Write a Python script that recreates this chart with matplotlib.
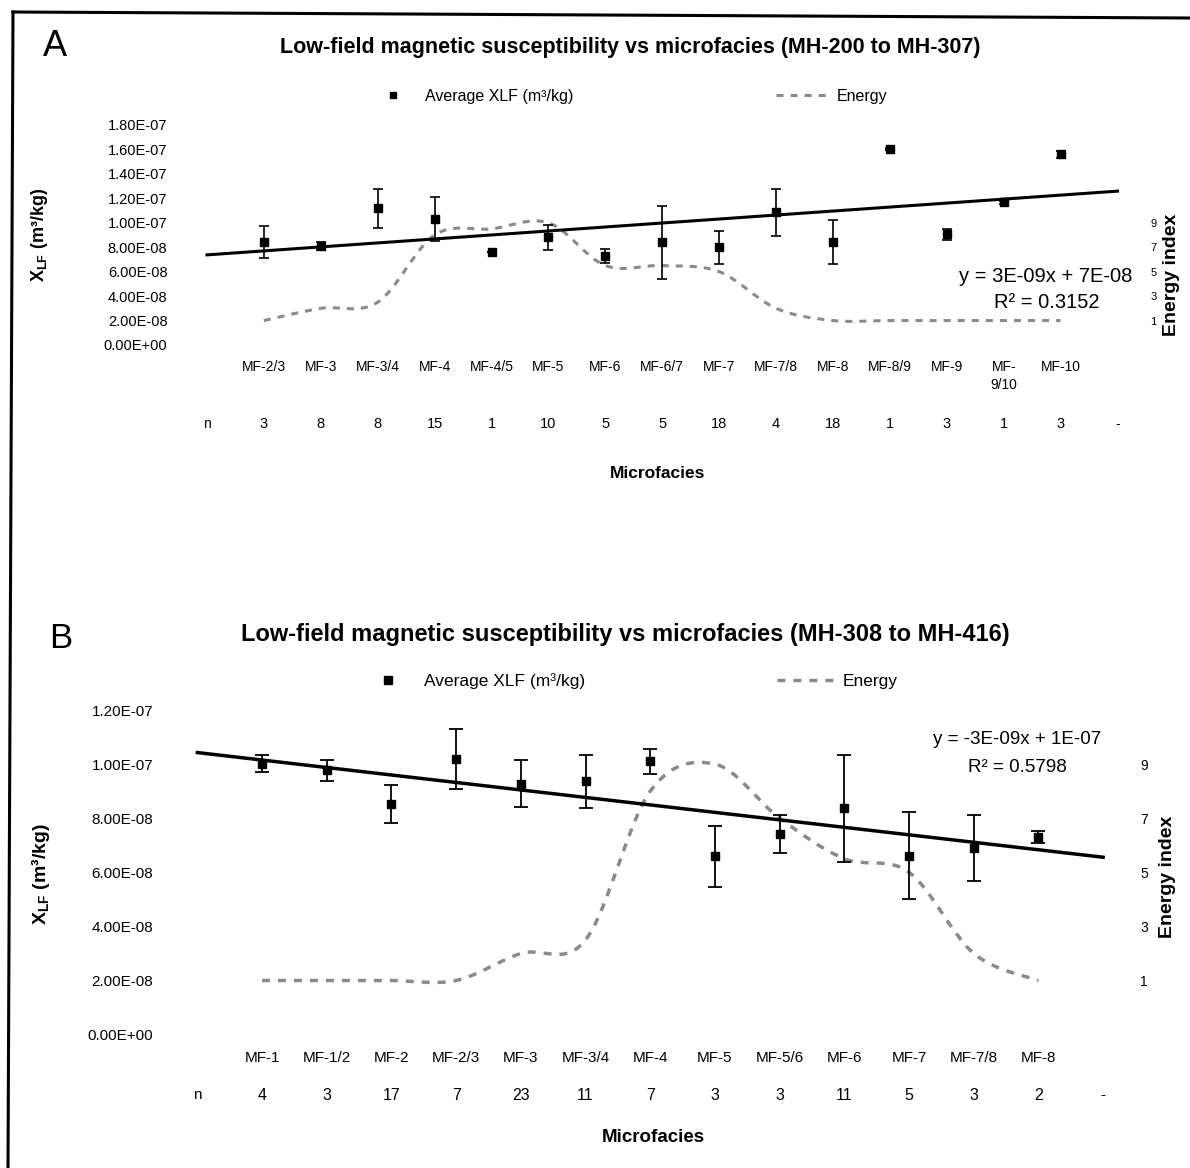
import numpy as np
import matplotlib
matplotlib.use('Agg')
import matplotlib.pyplot as plt
from matplotlib.path import Path
from matplotlib.patches import PathPatch
from matplotlib.lines import Line2D

plt.rcParams['font.family'] = ['Liberation Sans', 'DejaVu Sans']
plt.rcParams['mathtext.fontset'] = 'custom'
plt.rcParams['mathtext.rm'] = 'Liberation Sans'
plt.rcParams['mathtext.bf'] = 'Liberation Sans:bold'

# --- panel A data (MH-200 to MH-307) ---
a_cats = ['MF-2/3', 'MF-3', 'MF-3/4', 'MF-4', 'MF-4/5', 'MF-5', 'MF-6', 'MF-6/7',
          'MF-7', 'MF-7/8', 'MF-8', 'MF-8/9', 'MF-9', 'MF-\n9/10', 'MF-10']
a_n = [3, 8, 8, 15, 1, 10, 5, 5, 18, 4, 18, 1, 3, 1, 3]
a_xlf = np.array([8.4, 8.1, 11.2, 10.3, 7.6, 8.8, 7.3, 8.4, 8.0, 10.85, 8.4, 16.05, 9.05, 11.67, 15.6]) * 1e-8
a_err = np.array([1.3, 0.35, 1.6, 1.8, 0.0, 1.05, 0.55, 3.0, 1.35, 1.95, 1.8, 0.1, 0.45, 0.15, 0.3]) * 1e-8
a_energy = [1, 2, 2.5, 8, 8.5, 9, 5.5, 5.5, 5, 2, 1, 1, 1, 1, 1]
a_yticks = [0, 2e-8, 4e-8, 6e-8, 8e-8, 1e-7, 1.2e-7, 1.4e-7, 1.6e-7, 1.8e-7]

# --- panel B data (MH-308 to MH-416) ---
b_cats = ['MF-1', 'MF-1/2', 'MF-2', 'MF-2/3', 'MF-3', 'MF-3/4', 'MF-4', 'MF-5',
          'MF-5/6', 'MF-6', 'MF-7', 'MF-7/8', 'MF-8']
b_n = [4, 3, 17, 7, 23, 11, 7, 3, 3, 11, 5, 3, 2]
b_xlf = np.array([10.02, 9.77, 8.51, 10.18, 9.28, 9.37, 10.1, 6.59, 7.41, 8.36, 6.61, 6.9, 7.29]) * 1e-8
b_err = np.array([0.3, 0.4, 0.7, 1.1, 0.87, 0.98, 0.45, 1.14, 0.69, 1.98, 1.61, 1.21, 0.22]) * 1e-8
b_energy = [1, 1, 1, 1, 2, 2.5, 8, 9, 7, 5.5, 5, 2, 1]
b_yticks = [0, 2e-8, 4e-8, 6e-8, 8e-8, 1e-7, 1.2e-7]

energy_ticks = [1, 3, 5, 7, 9]

W, H = 1190, 1168
GRAY = '#8a8a8a'

fig = plt.figure(figsize=(W / 100, H / 100), dpi=100)


def fx(x):
    return x / W


def fy(y):
    return 1 - y / H


def smooth_path(x, y):
    # excel style smoothed line: cubic bezier through every point
    verts = [(x[0], y[0])]
    codes = [Path.MOVETO]
    n = len(x)
    for i in range(n - 1):
        xp, yp = (x[i - 1], y[i - 1]) if i > 0 else (x[i], y[i])
        xn, yn = (x[i + 2], y[i + 2]) if i + 2 < n else (x[i + 1], y[i + 1])
        verts.append((x[i] + (x[i + 1] - xp) / 6, y[i] + (y[i + 1] - yp) / 6))
        verts.append((x[i + 1] - (xn - x[i]) / 6, y[i + 1] - (yn - y[i]) / 6))
        verts.append((x[i + 1], y[i + 1]))
        codes += [Path.CURVE4] * 3
    return Path(verts, codes)


def panel(px, cats, n, xlf, err, energy, yticks, elim, s):
    # px = (left, right, top, bottom) of the plot area in pixels
    left, right, top, bottom = px
    ax = fig.add_axes([fx(left), fy(bottom), (right - left) / W, (bottom - top) / H])
    ax2 = ax.twinx()
    ax.set_zorder(ax2.get_zorder() + 1)
    ax.patch.set_visible(False)

    x = np.arange(1, len(cats) + 1)
    ax.set_xlim(-0.5, len(cats) + 1.5)
    ax.set_ylim(yticks[0], yticks[-1])
    ax2.set_ylim(*elim)

    ax.errorbar(x, xlf, yerr=err, fmt='s', color='black', ms=s['ms'],
                capsize=s['cap'], elinewidth=s['elw'], capthick=s['elw'], zorder=4)
    coef = np.polyfit(x, xlf, 1)
    xt = np.array([0, len(cats) + 1])
    ax.plot(xt, np.polyval(coef, xt), color='black', lw=s['tlw'], zorder=3)

    ax2.add_patch(PathPatch(smooth_path(x, energy), fill=False, ec=GRAY,
                            lw=s['elw2'], ls=(0, (2.3, 2.3))))

    for a in (ax, ax2):
        for sp in a.spines.values():
            sp.set_visible(False)
        a.tick_params(length=0)

    ax.set_yticks(yticks, ['%.2E' % v for v in yticks], fontsize=s['tfs'])
    ax.tick_params(axis='y', pad=s['ypad'])
    ax.set_xticks(x, cats, fontsize=s['xfs'], linespacing=1.35)
    ax.tick_params(axis='x', pad=s['xpad'])
    ax2.set_yticks(energy_ticks, [str(e) for e in energy_ticks], fontsize=s['efs'])
    ax2.tick_params(axis='y', pad=s['epad'])

    # n row under the category labels
    row = (bottom - s['nrow']) / (bottom - top)
    trans = ax.get_xaxis_transform()
    ax.text(0, row, 'n', transform=trans, ha='center', va='center', fontsize=s['xfs'])
    for xi, ni in zip(x, n):
        ax.text(xi, row, str(ni), transform=trans, ha='center', va='center', fontsize=s['nfs'])
    ax.text(len(cats) + 1, row, '-', transform=trans, ha='center', va='center', fontsize=s['xfs'])

    handles = [Line2D([], [], marker='s', ls='none', color='black', ms=s['ms'] * 0.9),
               Line2D([], [], color=GRAY, lw=s['elw2'], ls=(0, (2.3, 2.3)))]
    fig.legend(handles, ['Average XLF (m³/kg)', 'Energy'], loc='center',
               bbox_to_anchor=(fx(s['leg'][0]), fy(s['leg'][1])), ncol=2, frameon=False,
               fontsize=s['lfs'], handlelength=s['hl'], handletextpad=0.28,
               columnspacing=s['cs'], borderpad=0, borderaxespad=0)
    return ax, coef


styleA = dict(ms=5.5, cap=3.6, elw=1.2, tlw=2.2, elw2=2.2, tfs=10.5, ypad=8, xfs=10,
              xpad=11, efs=8, epad=3, nrow=424, nfs=10.5, lfs=11.5, hl=3.5, cs=12.7,
              leg=(626, 96))
styleB = dict(ms=6, cap=4.8, elw=1.3, tlw=2.5, elw2=2.5, tfs=11, ypad=8.6, xfs=11,
              xpad=11.5, efs=10, epad=3.5, nrow=1095, nfs=11.5, lfs=12.5, hl=3.5, cs=11.1,
              leg=(628, 681))

panel((178.5, 1146, 125, 345), a_cats, a_n, a_xlf, a_err, a_energy, a_yticks, (-1, 17), styleA)
panel((165, 1135.5, 710, 1034.6), b_cats, b_n, b_xlf, b_err, b_energy, b_yticks, (-1, 11), styleB)

# titles, panel letters, axis titles
fig.text(fx(630), fy(48), 'Low-field magnetic susceptibility vs microfacies (MH-200 to MH-307)',
         ha='center', va='center', fontsize=15.5, fontweight='bold')
fig.text(fx(625), fy(634), 'Low-field magnetic susceptibility vs microfacies (MH-308 to MH-416)',
         ha='center', va='center', fontsize=17, fontweight='bold')
fig.text(fx(55), fy(47), 'A', ha='center', va='center', fontsize=26)
fig.text(fx(61), fy(638), 'B', ha='center', va='center', fontsize=25)

ylab = r'X$_{\mathbf{LF}}$ (m³/kg)'
fig.text(fx(40), fy(235), ylab, rotation=90, ha='center', va='center', fontsize=13, fontweight='bold')
fig.text(fx(40), fy(874), ylab, rotation=90, ha='center', va='center', fontsize=14, fontweight='bold')
fig.text(fx(1172), fy(275), 'Energy index', rotation=90, ha='center', va='center', fontsize=14, fontweight='bold')
fig.text(fx(1168), fy(877), 'Energy index', rotation=90, ha='center', va='center', fontsize=14, fontweight='bold')
fig.text(fx(658), fy(474), 'Microfacies', ha='center', va='center', fontsize=12.5, fontweight='bold')
fig.text(fx(653), fy(1137), 'Microfacies', ha='center', va='center', fontsize=13.5, fontweight='bold')

# trendline equations as printed in the original
fig.text(fx(1046), fy(277), 'y = 3E-09x + 7E-08', ha='center', va='center', fontsize=14.5)
fig.text(fx(1047), fy(303), 'R² = 0.3152', ha='center', va='center', fontsize=14.5)
fig.text(fx(1017), fy(739), 'y = -3E-09x + 1E-07', ha='center', va='center', fontsize=13.5)
fig.text(fx(1017), fy(768), 'R² = 0.5798', ha='center', va='center', fontsize=13.5)

# frame around the figure (left and top edges)
fig.add_artist(Line2D([fx(13), fx(1190)], [fy(12), fy(18)], color='black', lw=2.2, transform=fig.transFigure))
fig.add_artist(Line2D([fx(13), fx(8)], [fy(12), fy(1168)], color='black', lw=2.2, transform=fig.transFigure))

fig.savefig('out.png', dpi=100)
